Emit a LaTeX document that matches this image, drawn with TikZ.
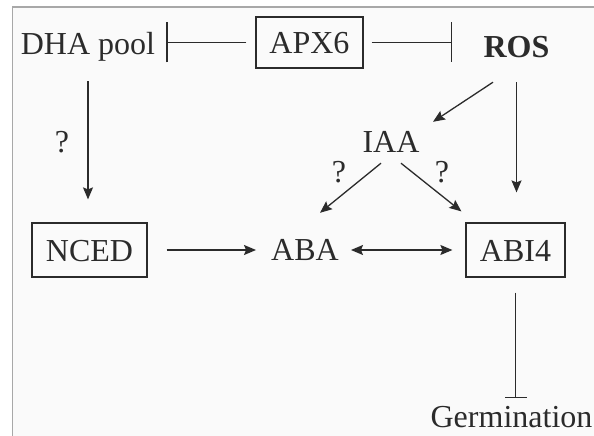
\documentclass[tikz,border=0pt]{standalone}
\usepackage{fontspec}
\setmainfont{Liberation Serif}
\usepackage{tikz}
\usetikzlibrary{arrows.meta}
\definecolor{ink}{HTML}{2B2B2B}
\definecolor{framegray}{HTML}{A8A8A8}

\begin{document}
\begin{tikzpicture}[x=1pt, y=-1pt,
  lbl/.style={font=\fontsize{32}{36}\selectfont, text=ink, inner sep=0pt,
    text height=22pt, text depth=7pt, anchor=base},
  gene/.style={draw=ink, line width=1.2pt, font=\fontsize{32}{36}\selectfont,
    text=ink, inner sep=0pt, text height=22pt, text depth=0pt},
  act/.style={draw=ink, line width=1.3pt, -{Stealth[length=12pt,width=10pt,inset=2pt]}},
  both/.style={draw=ink, line width=1.3pt,
    {Stealth[length=12pt,width=10pt,inset=2pt]}-{Stealth[length=12pt,width=10pt,inset=2pt]}},
  inh/.style={draw=ink, line width=1.3pt, -{Bar[width=40pt]}}]

\useasboundingbox (0,0) rectangle (594,436);

% Draw the frame
\fill[black!2] (12.5,7) rectangle (594,436);
\draw[framegray, line width=1.3pt] (12.5,436) -- (12.5,7) -- (594,7);

% Place the genes and signals
\node[gene, minimum width=107pt, minimum height=51pt] (apx) at (309.5,42.5) {APX6};
\node[gene, minimum width=115pt, minimum height=54pt] (nced) at (89.5,250) {NCED};
\node[gene, minimum width=99pt, minimum height=54pt] (abi) at (515.5,250) {ABI4};
\node[lbl] (dha) at (88,55) {DHA pool};
\node[lbl, font=\fontsize{32}{36}\selectfont\bfseries] (ros) at (516.5,57) {ROS};
\node[lbl] (iaa) at (391,152) {IAA};
\node[lbl] (aba) at (305,260) {ABA};
\node[lbl] (germ) at (511.5,427) {Germination};

% Question marks
\node[lbl] (q1) at (62,152) {?};
\node[lbl] (q2) at (339,182) {?};
\node[lbl] (q3) at (442,182) {?};

% Inhibitions
\draw[inh, shorten <=9pt, shorten >=11pt] (apx.west) -- (apx.west -| dha.east);
\draw[inh, shorten <=8pt, shorten >=31pt] (apx.east) -- (apx.east -| ros.west);
\draw[inh, -{Bar[width=22pt]}, shorten <=15pt, shorten >=7pt] (abi.south) -- (abi.south |- germ.north);

% Activations
\draw[act, shorten <=19pt, shorten >=23pt] (dha.south) -- (dha.south |- nced.north);
\draw[act, shorten <=19pt, shorten >=15pt] (nced.east) -- (nced.east -| aba.west);
\draw[both, shorten <=12pt, shorten >=13pt] (aba.east |- abi.west) -- (abi.west);
\draw[act] ([xshift=-23.5pt,yshift=-18pt]ros.south) -- ([xshift=42pt,yshift=8pt]iaa.north);
\draw[act, shorten <=18pt, shorten >=30pt] (ros.south) -- (ros.south |- abi.north);
\draw[act] ([xshift=-10pt,yshift=-4pt]iaa.south) -- ([xshift=15pt,yshift=25pt]aba.north);
\draw[act] ([xshift=10pt,yshift=-4pt]iaa.south) -- ([xshift=-4pt,yshift=11pt]abi.north west);

\end{tikzpicture}
\end{document}
